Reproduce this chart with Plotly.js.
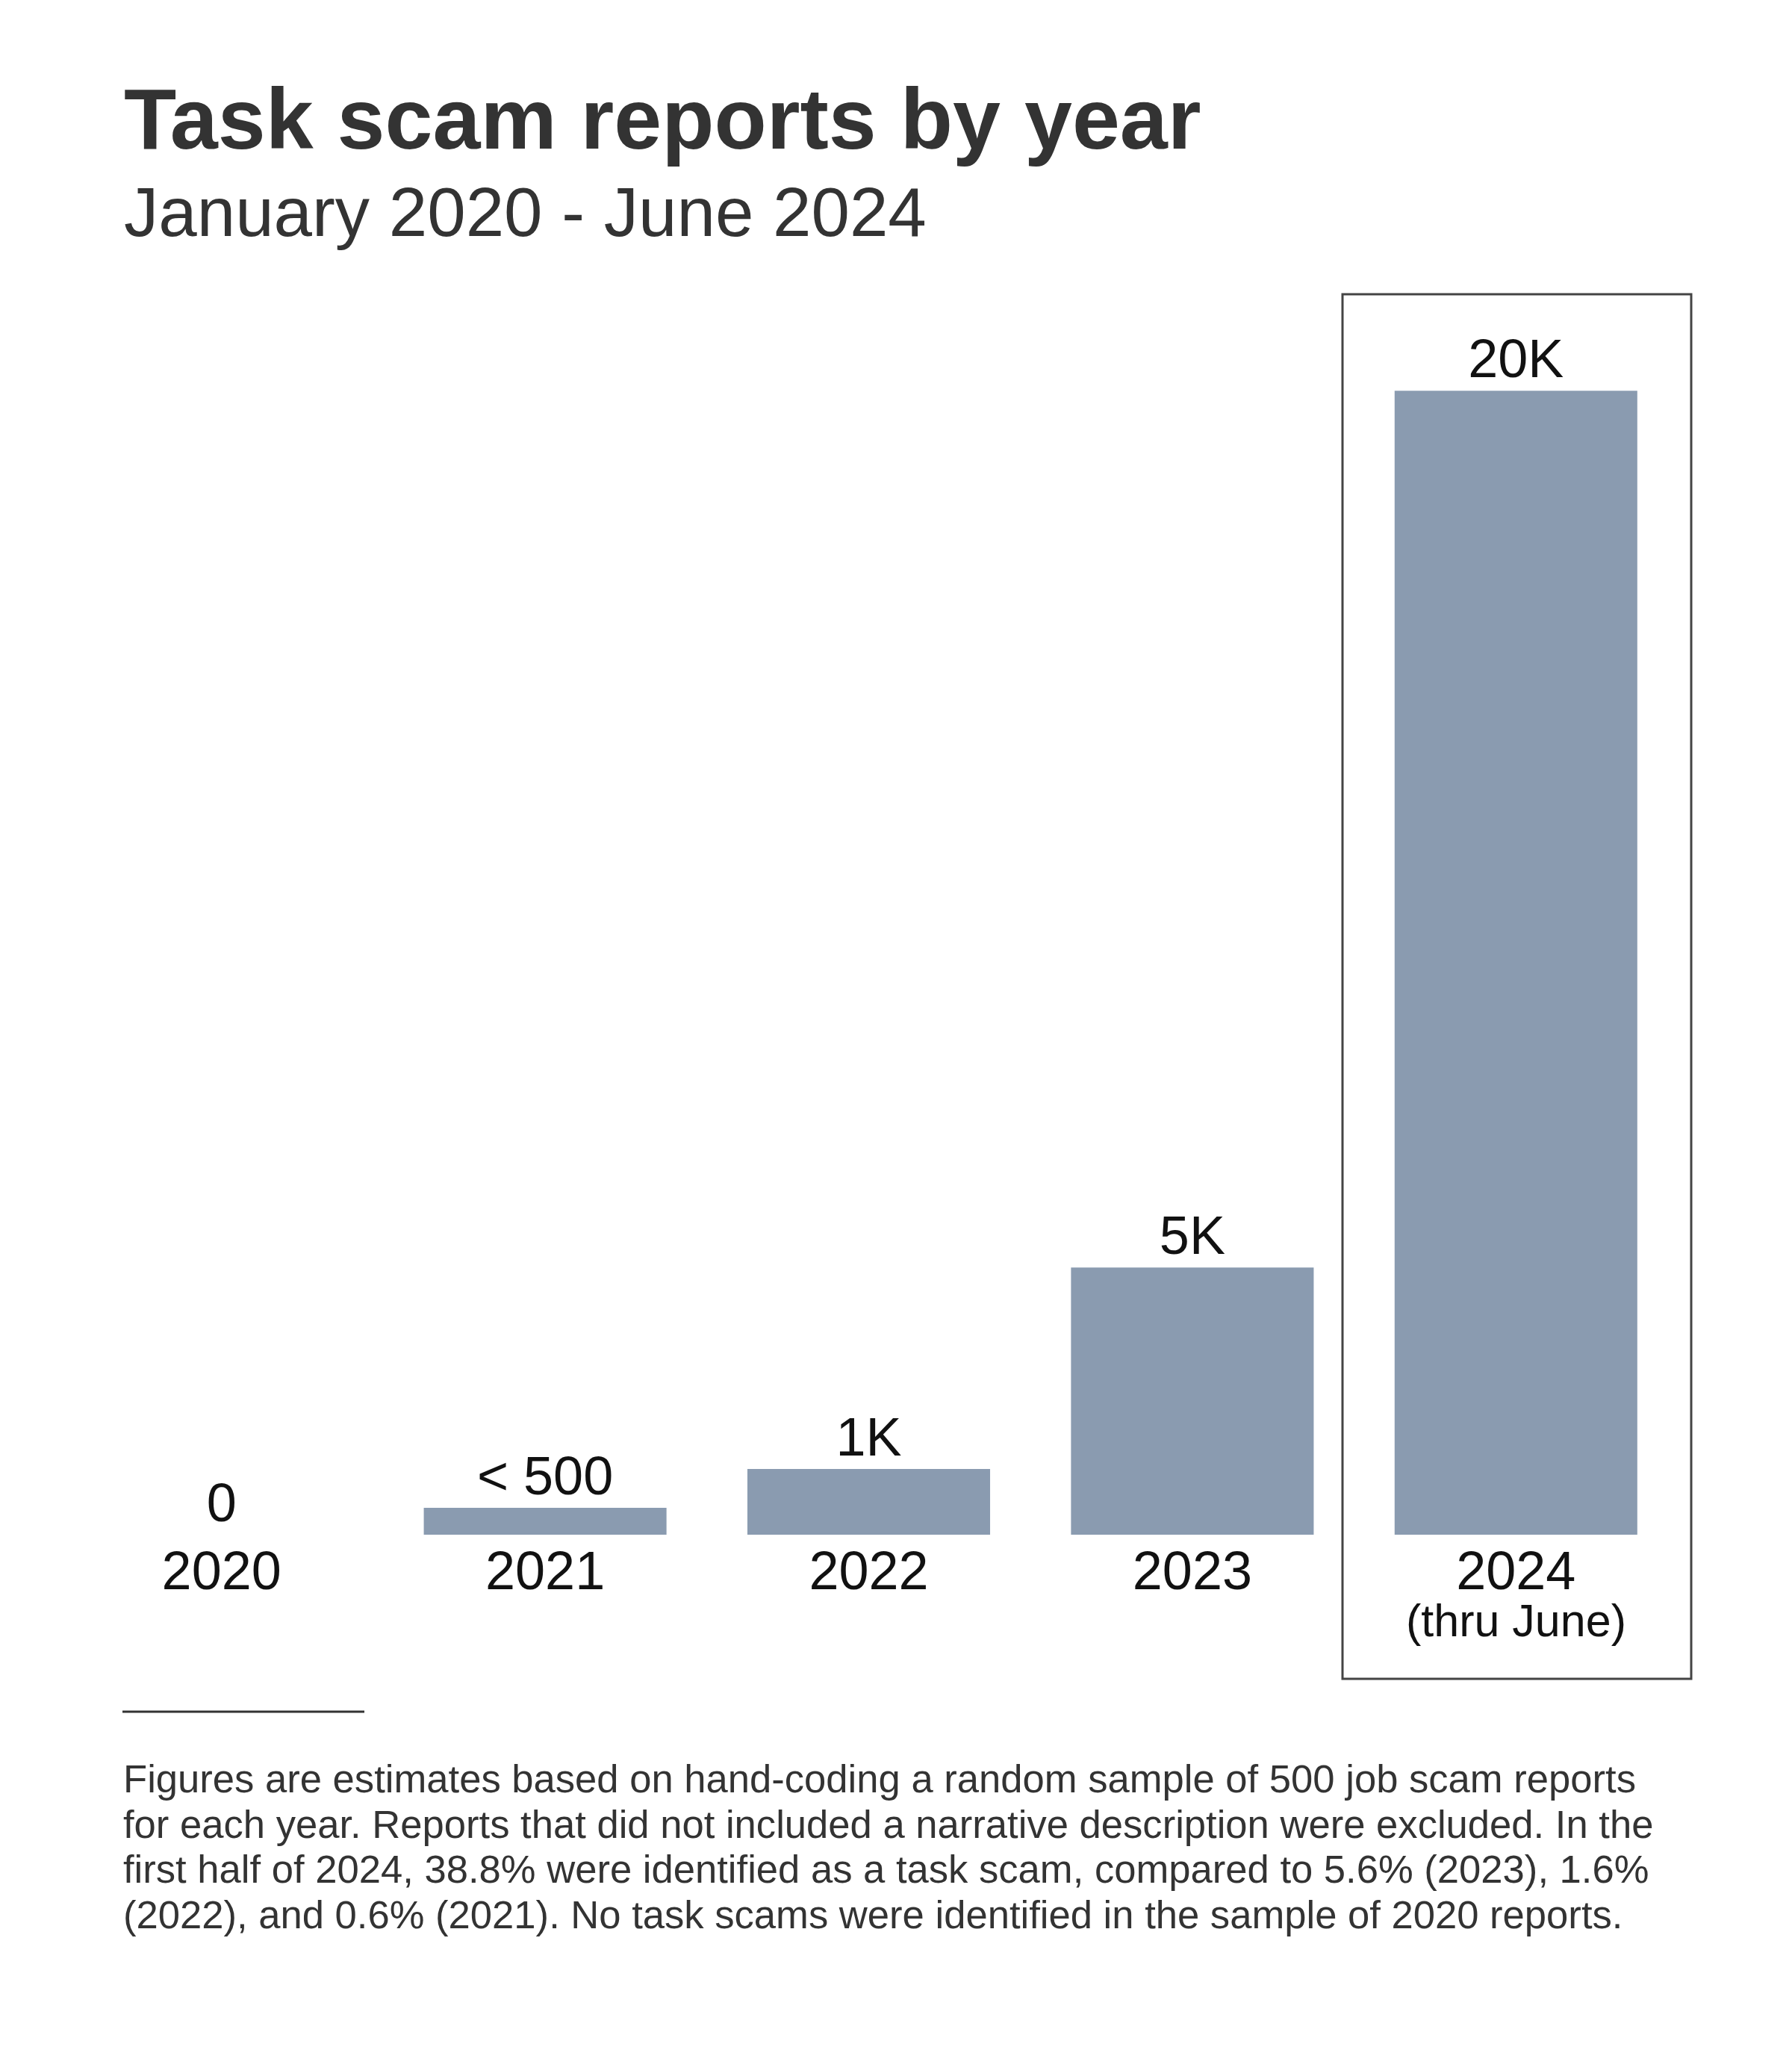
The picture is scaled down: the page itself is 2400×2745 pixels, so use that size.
<!DOCTYPE html>
<html>
<head>
<meta charset="utf-8">
<script src="https://cdn.plot.ly/plotly-3.0.1.min.js"></script>
<style>
  html, body { margin: 0; padding: 0; background: #ffffff; }
  #chart { width: 2400px; height: 2745px; }
</style>
</head>
<body>
<div id="chart"></div>
<script>
// ---- data ----
const years = ['2020', '2021', '2022', '2023', '2024'];
const tickLabels = ['2020', '2021', '2022', '2023', '2024'];
const reports = [0, 470, 1150, 4670, 20000];
const valueLabels = ['0', '< 500', '1K', '5K', '20K'];
const highlightYear = '2024';
const highlightNote = '(thru June)';

const titleText = 'Task scam reports by year';
const subtitleText = 'January 2020 - June 2024';
const footnoteLines = [
  'Figures are estimates based on hand-coding a random sample of 500 job scam reports',
  'for each year. Reports that did not included a narrative description were excluded. In the',
  'first half of 2024, 38.8% were identified as a task scam, compared to 5.6% (2023), 1.6%',
  '(2022), and 0.6% (2021). No task scams were identified in the sample of 2020 reports.'
];

// ---- layout geometry ----
const W = 2400, H = 2745;
const M = { l: 80, r: 153, t: 370, b: 690 };
const PW = W - M.l - M.r, PH = H - M.t - M.b;
const px2x = p => (p - M.l) / PW;
const px2y = p => 1 - (p - M.t) / PH;

const FONT = 'Liberation Sans, Arial, Helvetica, sans-serif';
const barColor = '#8a9bb0';

const trace = {
  type: 'bar',
  x: years,
  y: reports,
  text: valueLabels,
  textposition: 'outside',
  texttemplate: '%{text}',
  textfont: { family: FONT, size: 72, color: '#111111' },
  cliponaxis: false,
  marker: { color: barColor, line: { width: 0 } },
  hoverinfo: 'none'
};

const footnoteAnnotations = footnoteLines.map((line, i) => ({
  text: line,
  xref: 'paper', yref: 'paper',
  x: px2x(163), xanchor: 'left',
  y: px2y(2350 + i * 60.7), yanchor: 'top',
  align: 'left',
  showarrow: false,
  font: { family: FONT, size: 52.6, color: '#333333' }
}));

const layout = {
  width: W,
  height: H,
  margin: M,
  paper_bgcolor: '#ffffff',
  plot_bgcolor: '#ffffff',
  showlegend: false,
  bargap: 0.25,
  font: { family: FONT, color: '#111111' },
  title: {
    text: '<b>' + titleText + '</b>',
    font: { family: FONT, size: 115, color: '#333333' },
    xref: 'container', yref: 'container',
    x: 166 / W, xanchor: 'left',
    y: 1 - 118 / H, yanchor: 'top'
  },
  xaxis: {
    type: 'category',
    categoryorder: 'array',
    categoryarray: years,
    range: [-0.5, years.length - 0.5],
    autorange: false,
    tickvals: years,
    ticktext: tickLabels,
    tickangle: 0,
    tickfont: { family: FONT, size: 72, color: '#111111' },
    showgrid: false, zeroline: false, showline: false, ticks: '',
    fixedrange: true
  },
  yaxis: {
    range: [0, 22000],
    autorange: false,
    visible: false,
    showgrid: false, zeroline: false,
    fixedrange: true
  },
  shapes: [
    { // highlight box around 2024
      type: 'rect', xref: 'paper', yref: 'paper',
      x0: px2x(1798), x1: px2x(2265), y0: px2y(2248), y1: px2y(394),
      line: { color: '#444444', width: 3 }, fillcolor: 'rgba(0,0,0,0)',
      layer: 'below'
    },
    { // footnote separator
      type: 'line', xref: 'paper', yref: 'paper',
      x0: px2x(164), x1: px2x(488), y0: px2y(2292), y1: px2y(2292),
      line: { color: '#333333', width: 3 }
    }
  ],
  annotations: [
    {
      text: subtitleText,
      xref: 'paper', yref: 'paper',
      x: px2x(164), xanchor: 'left',
      y: px2y(230), yanchor: 'top',
      showarrow: false,
      font: { family: FONT, size: 92.5, color: '#333333' }
    },
    {
      text: highlightNote,
      xref: 'x', yref: 'paper',
      x: years.indexOf(highlightYear), xanchor: 'center',
      y: 0, yanchor: 'top', yshift: -79,
      showarrow: false,
      font: { family: FONT, size: 61, color: '#111111' }
    }
  ].concat(footnoteAnnotations)
};

Plotly.newPlot('chart', [trace], layout, { staticPlot: true, displayModeBar: false });
</script>
</body>
</html>
